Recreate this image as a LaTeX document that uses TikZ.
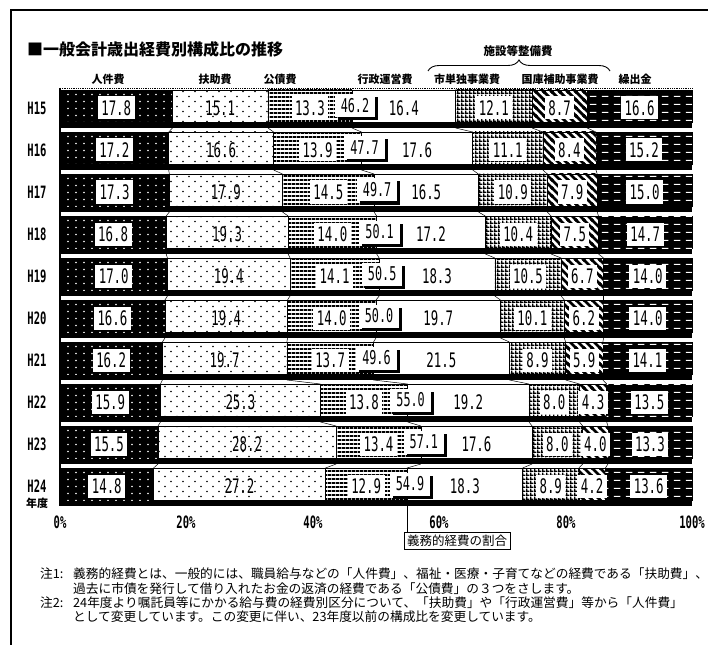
\documentclass[tikz,border=0pt]{standalone}
\usepackage{fontspec}
\setmainfont{Noto Sans CJK JP}
\newfontfamily\numfont[FakeStretch=0.62]{DejaVu Sans Mono}
\usetikzlibrary{patterns,shadows,decorations.pathreplacing}

% fill patterns of the cost types
\pgfdeclarepatternformonly{jdots}{\pgfqpoint{-1pt}{-1pt}}{\pgfqpoint{9pt}{8pt}}{\pgfqpoint{8pt}{7pt}}{%
  \pgfpathcircle{\pgfqpoint{4pt}{3.5pt}}{0.8pt}\pgfusepath{fill}}
\pgfdeclarepatternformonly{fdots}{\pgfqpoint{-1pt}{-1pt}}{\pgfqpoint{13pt}{11pt}}{\pgfqpoint{12pt}{10pt}}{%
  \pgfpathcircle{\pgfqpoint{3pt}{2.5pt}}{0.9pt}\pgfpathcircle{\pgfqpoint{9pt}{7.5pt}}{0.9pt}\pgfusepath{fill}}
\pgfdeclarepatternformonly{hlines}{\pgfpointorigin}{\pgfqpoint{3.6pt}{3.6pt}}{\pgfqpoint{3.6pt}{3.6pt}}{%
  \pgfpathrectangle{\pgfpointorigin}{\pgfqpoint{3.6pt}{2pt}}\pgfusepath{fill}}
\pgfdeclarepatternformonly{checks}{\pgfpointorigin}{\pgfqpoint{3.6pt}{3.6pt}}{\pgfqpoint{3.6pt}{3.6pt}}{%
  \pgfpathrectangle{\pgfpointorigin}{\pgfqpoint{3.6pt}{1.4pt}}%
  \pgfpathrectangle{\pgfpointorigin}{\pgfqpoint{1.4pt}{3.6pt}}\pgfusepath{fill}}
\pgfdeclarepatternformonly{stripes}{\pgfqpoint{-2pt}{-2pt}}{\pgfqpoint{10pt}{10pt}}{\pgfqpoint{8pt}{8pt}}{%
  \pgfsetlinewidth{2.8pt}%
  \pgfpathmoveto{\pgfqpoint{0pt}{8pt}}\pgfpathlineto{\pgfqpoint{8pt}{0pt}}%
  \pgfpathmoveto{\pgfqpoint{-1pt}{1pt}}\pgfpathlineto{\pgfqpoint{1pt}{-1pt}}%
  \pgfpathmoveto{\pgfqpoint{7pt}{9pt}}\pgfpathlineto{\pgfqpoint{9pt}{7pt}}%
  \pgfusepath{stroke}}
\pgfdeclarepatternformonly{dashes}{\pgfpointorigin}{\pgfqpoint{12pt}{8pt}}{\pgfqpoint{12pt}{8pt}}{%
  \pgfpathrectangle{\pgfqpoint{2pt}{3.4pt}}{\pgfqpoint{7pt}{1.2pt}}\pgfusepath{fill}}

% one year: #1 row, #2 人件費, #3 扶助費, #4 公債費, #5 義務的経費, #6 行政運営費, #7 市単独, #8 国庫補助, #9 繰出金
\newcommand{\yearbar}[9]{%
  \pgfmathsetmacro{\yt}{90+42*#1}%
  \pgfmathsetmacro{\yb}{\yt+32}%
  \pgfmathsetmacro{\ys}{\yt+38}%
  \pgfmathsetmacro{\ym}{\yt+18}%
  \pgfmathsetmacro{\xa}{60+6.32*#2}%
  \pgfmathsetmacro{\xb}{\xa+6.32*#3}%
  \pgfmathsetmacro{\xc}{\xb+6.32*#4}%
  \pgfmathsetmacro{\xd}{\xc+6.32*#6}%
  \pgfmathsetmacro{\xe}{\xd+6.32*#7}%
  \pgfmathsetmacro{\xf}{\xe+6.32*#8}%
  \fill (60,\yb) rectangle (692,\ys);
  \draw[seg,fill=black,postaction={pattern=jdots,pattern color=white}] (60,\yt) rectangle (\xa,\yb);
  \draw[seg,fill=white,postaction={pattern=fdots}] (\xa,\yt) rectangle (\xb,\yb);
  \draw[seg,fill=white,postaction={pattern=hlines}] (\xb,\yt) rectangle (\xc,\yb);
  \draw[seg,fill=white] (\xc,\yt) rectangle (\xd,\yb);
  \draw[seg,fill=white,postaction={pattern=checks}] (\xd,\yt) rectangle (\xe,\yb);
  \draw[seg,fill=white,postaction={pattern=stripes}] (\xe,\yt) rectangle (\xf,\yb);
  \draw[seg,fill=black,postaction={pattern=dashes,pattern color=white}] (\xf,\yt) rectangle (692,\yb);
  \node[yearlab] (y#1) at (37,\ym) {H\the\numexpr15+#1\relax};
  \node[valbox] (v#1a) at ({(60+\xa)/2},\ym) {#2};
  \node[valtext] (v#1b) at ({(\xa+\xb)/2},\ym) {#3};
  \node[valbox] (v#1c) at ({(\xb+\xc)/2},\ym) {#4};
  \node[valtext] (v#1d) at ({(\xc+\xd)/2},\ym) {#6};
  \node[valbox] (v#1e) at ({(\xd+\xe)/2},\ym) {#7};
  \node[valbox] (v#1f) at ({(\xe+\xf)/2},\ym) {#8};
  \node[valbox] (v#1g) at ({(\xf+692)/2},\ym) {#9};
  \node[sumbox] (g#1) at ({\xc+3},{\yt+16}) {#5};
  \coordinate (t#1a) at (\xa,\yt); \coordinate (b#1a) at (\xa,\ys);
  \coordinate (t#1b) at (\xb,\yt); \coordinate (b#1b) at (\xb,\ys);
  \coordinate (t#1c) at (\xc,\yt); \coordinate (b#1c) at (\xc,\ys);
  \coordinate (t#1d) at (\xd,\yt); \coordinate (b#1d) at (\xd,\ys);
  \coordinate (t#1e) at (\xe,\yt); \coordinate (b#1e) at (\xe,\ys);
  \coordinate (t#1f) at (\xf,\yt); \coordinate (b#1f) at (\xf,\ys);
}

\begin{document}
\begin{tikzpicture}[x=1pt,y=-1pt,
    seg/.style={draw=black,line width=0.6pt},
    valbox/.style={fill=white,inner xsep=3.5pt,inner ysep=0pt,minimum height=23pt,font=\numfont\fontsize{20}{20}\selectfont},
    valtext/.style={inner sep=0pt,font=\numfont\fontsize{20}{20}\selectfont},
    sumbox/.style={fill=white,inner xsep=6pt,inner ysep=0pt,minimum height=23pt,font=\numfont\fontsize{19}{19}\selectfont,
      drop shadow={shadow xshift=3pt,shadow yshift=-3pt,fill=black,opacity=1}},
    yearlab/.style={inner sep=0pt,font=\numfont\bfseries\fontsize{17}{17}\selectfont},
    head/.style={inner sep=0pt,font=\bfseries\fontsize{11}{11}\selectfont},
    note/.style={anchor=west,inner sep=0pt,font=\fontsize{12.7}{12.7}\selectfont},
    serie/.style={line width=0.5pt}]
  \useasboundingbox (0,0) rectangle (708,644);
  \clip (0,0) rectangle (708,644);
  \fill[white] (0,0) rectangle (708,644);
  \draw[line width=1.8pt] (11,650) -- (11,10) -- (715,10);

  \node[anchor=west,inner sep=0pt,font=\bfseries\fontsize{16}{16}\selectfont] (title) at (27,49) {■一般会計歳出経費別構成比の推移};

  % headings
  \node[head] (h1) at (108,79) {人件費};
  \node[head] (h2) at (215,79) {扶助費};
  \node[head] (h3) at (280,79) {公債費};
  \node[head] (h4) at (385,79) {行政運営費};
  \node[head] (h5) at (467,79) {市単独事業費};
  \node[head] (h6) at (560,79) {国庫補助事業費};
  \node[head] (h7) at (635,79) {繰出金};
  \node[head,font=\bfseries\fontsize{11.5}{11.5}\selectfont] (h8) at (518,51) {施設等整備費};
  \draw[decorate,decoration={brace,amplitude=11pt},line width=0.9pt] (428,71) -- (610,71);

  \draw[densely dotted,line width=0.8pt] (60,88) -- (692,88);

  \yearbar{0}{17.8}{15.1}{13.3}{46.2}{16.4}{12.1}{8.7}{16.6}
  \yearbar{1}{17.2}{16.6}{13.9}{47.7}{17.6}{11.1}{8.4}{15.2}
  \yearbar{2}{17.3}{17.9}{14.5}{49.7}{16.5}{10.9}{7.9}{15.0}
  \yearbar{3}{16.8}{19.3}{14.0}{50.1}{17.2}{10.4}{7.5}{14.7}
  \yearbar{4}{17.0}{19.4}{14.1}{50.5}{18.3}{10.5}{6.7}{14.0}
  \yearbar{5}{16.6}{19.4}{14.0}{50.0}{19.7}{10.1}{6.2}{14.0}
  \yearbar{6}{16.2}{19.7}{13.7}{49.6}{21.5}{8.9}{5.9}{14.1}
  \yearbar{7}{15.9}{25.3}{13.8}{55.0}{19.2}{8.0}{4.3}{13.5}
  \yearbar{8}{15.5}{28.2}{13.4}{57.1}{17.6}{8.0}{4.0}{13.3}
  \yearbar{9}{14.8}{27.2}{12.9}{54.9}{18.3}{8.9}{4.2}{13.6}

  % lines between the bars
  \foreach \k in {0,...,8}{
    \pgfmathtruncatemacro{\n}{\k+1}
    \foreach \s in {a,b,c,d,e,f}
      \draw[serie] (b\k\s) -- (t\n\s);
  }
  \draw[line width=1.5pt] (60,88) -- (60,506);

  % axis
  \node[head] (nendo) at (37,503) {年度};
  \node[yearlab] (p0) at (60,522) {0\%};
  \node[yearlab] (p20) at (186,522) {20\%};
  \node[yearlab] (p40) at (313,522) {40\%};
  \node[yearlab] (p60) at (439,522) {60\%};
  \node[yearlab] (p80) at (566,522) {80\%};
  \node[yearlab] (p100) at (692,522) {100\%};

  \node[draw,line width=0.8pt,inner sep=3pt,font=\fontsize{12.5}{12.5}\selectfont] (gimu) at (457,541) {義務的経費の割合};
  \draw[line width=0.8pt] (b9c) -- (b9c |- gimu.north);

  % notes
  \node[note] (n1) at (40,574) {注1:};
  \node[note] (n1a) at (73,574) {義務的経費とは、一般的には、職員給与などの「人件費」、福祉・医療・子育てなどの経費である「扶助費」、};
  \node[note] (n1b) at (73,589) {過去に市債を発行して借り入れたお金の返済の経費である「公債費」の３つをさします。};
  \node[note] (n2) at (40,603) {注2:};
  \node[note] (n2a) at (73,603) {24年度より嘱託員等にかかる給与費の経費別区分について、「扶助費」や「行政運営費」等から「人件費」};
  \node[note] (n2b) at (73,617) {として変更しています。この変更に伴い、23年度以前の構成比を変更しています。};
\end{tikzpicture}
\end{document}
